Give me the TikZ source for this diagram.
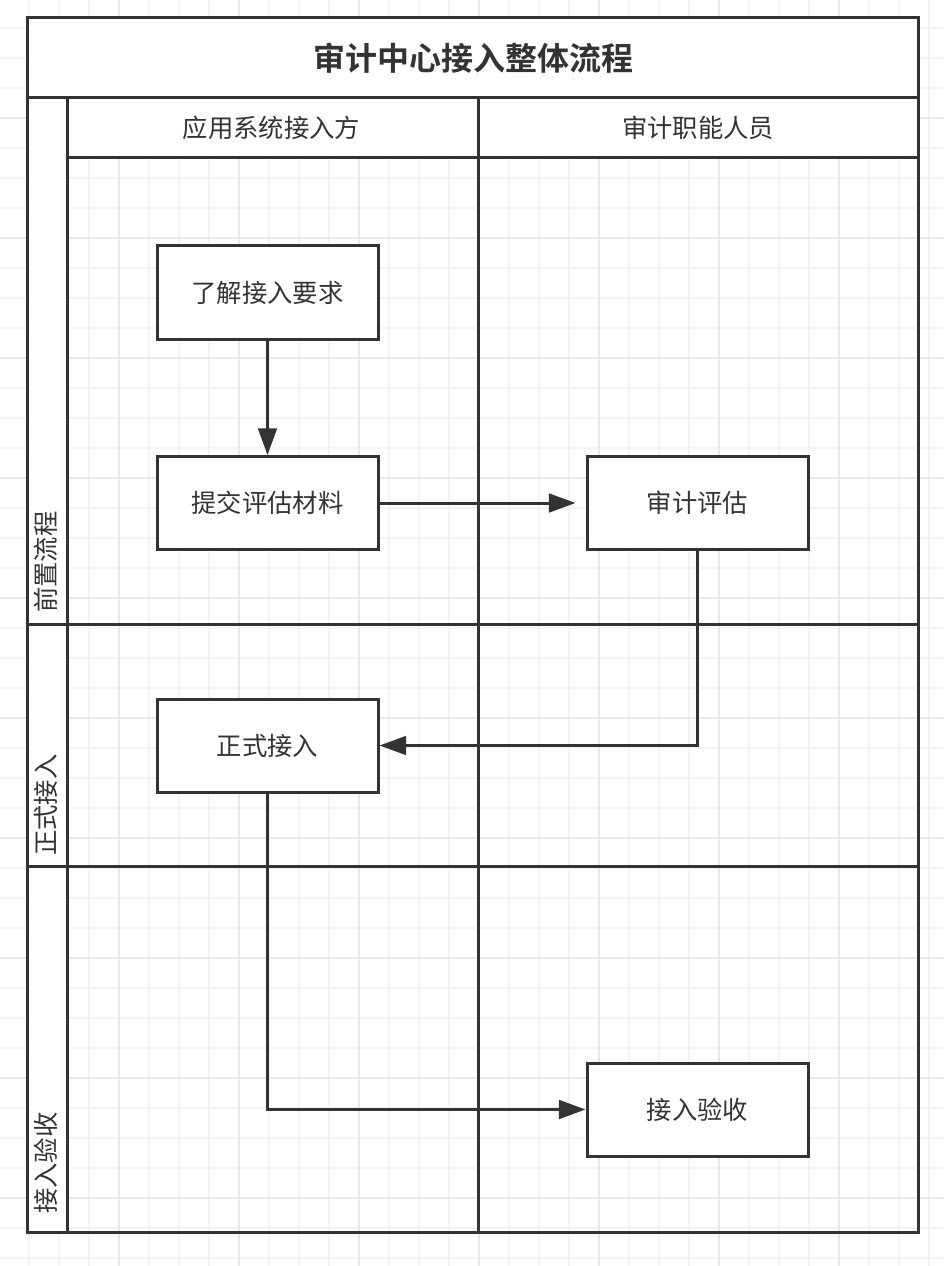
\documentclass[tikz,border=0pt]{standalone}
\usepackage{fontspec}
\setmainfont{Noto Sans CJK SC}[BoldFont={Noto Sans CJK SC Bold}]
\usetikzlibrary{arrows.meta}
\usetikzlibrary{positioning}
\definecolor{LineGray}{HTML}{333333}
\definecolor{GridMinor}{HTML}{F3F3F3}
\definecolor{GridMajor}{HTML}{E8E8E8}
\tikzset{
  stepbox/.style={draw=LineGray, line width=2.25pt, fill=white,
    minimum width=165.75pt, minimum height=69.75pt, inner sep=0pt,
    font=\fontsize{19}{21}\selectfont, text=LineGray},
  lane/.style={draw=LineGray, line width=2.25pt},
  flow/.style={draw=LineGray, line width=2.25pt,
    -{Triangle[length=20pt,width=14pt]}},
  headtext/.style={font=\fontsize{19}{21}\selectfont, text=LineGray, inner sep=0pt},
  lanetext/.style={headtext, rotate=90, anchor=west},
}

\begin{document}
\begin{tikzpicture}[x=0.75pt, y=-0.75pt]
  \useasboundingbox (0,0) rectangle (944,1266);
  \fill[white] (0,0) rectangle (944,1266);

  % grid
  \foreach \k in {0,...,30}
    \draw[GridMinor, line width=1.5pt] ({29.3+30*\k},0) -- ({29.3+30*\k},1266);
  \foreach \k in {0,...,41}
    \draw[GridMinor, line width=1.5pt] (0,{28.3+30*\k}) -- (944,{28.3+30*\k});
  \foreach \k in {0,...,6}
    \draw[GridMajor, line width=1.5pt] ({119.3+120*\k},0) -- ({119.3+120*\k},1266);
  \foreach \k in {0,...,9}
    \draw[GridMajor, line width=1.5pt] (0,{118.3+120*\k}) -- (944,{118.3+120*\k});

  % swimlanes
  \fill[white] (27,18) rectangle (918,98);
  \fill[white] (67,98) rectangle (918,158);
  \fill[white] (27,98) rectangle (67,1232);
  \draw[lane] (27,18) rectangle (918,1232);
  \draw[lane] (27,98) -- (918,98);
  \draw[lane] (67,98) -- (67,1232);
  \draw[lane] (67,158) -- (918,158);
  \draw[lane] (478,98) -- (478,1232);
  \draw[lane] (27,624) -- (918,624);
  \draw[lane] (27,866) -- (918,866);

  \node[text=LineGray, font=\fontsize{24}{27}\selectfont\bfseries] (title) at (473,58) {审计中心接入整体流程};
  \node[headtext] (apply) at (271.5,128) {应用系统接入方};
  \node[headtext] (audit) at (698,128) {审计职能人员};
  \node[lanetext] (pre) at (46,613) {前置流程};
  \node[lanetext] (formalrow) at (46,856) {正式接入};
  \node[lanetext] (acceptrow) at (46,1214) {接入验收};

  % steps
  \node[stepbox] (know) at (267.5,292.5) {了解接入要求};
  \node[stepbox] (submit) at (267.5,503) {提交评估材料};
  \node[stepbox] (review) at (697.5,503) {审计评估};
  \node[stepbox] (formal) at (267.5,745.5) {正式接入};
  \node[stepbox] (accept) at (697.5,1109.5) {接入验收};

  \draw[flow] (know) -- (submit);
  \draw[flow, shorten >=7.5pt] (submit) -- (review);
  \draw[flow] (review.south) |- (formal.east);
  \draw[flow] (formal.south) |- (accept.west);

\end{tikzpicture}
\end{document}
